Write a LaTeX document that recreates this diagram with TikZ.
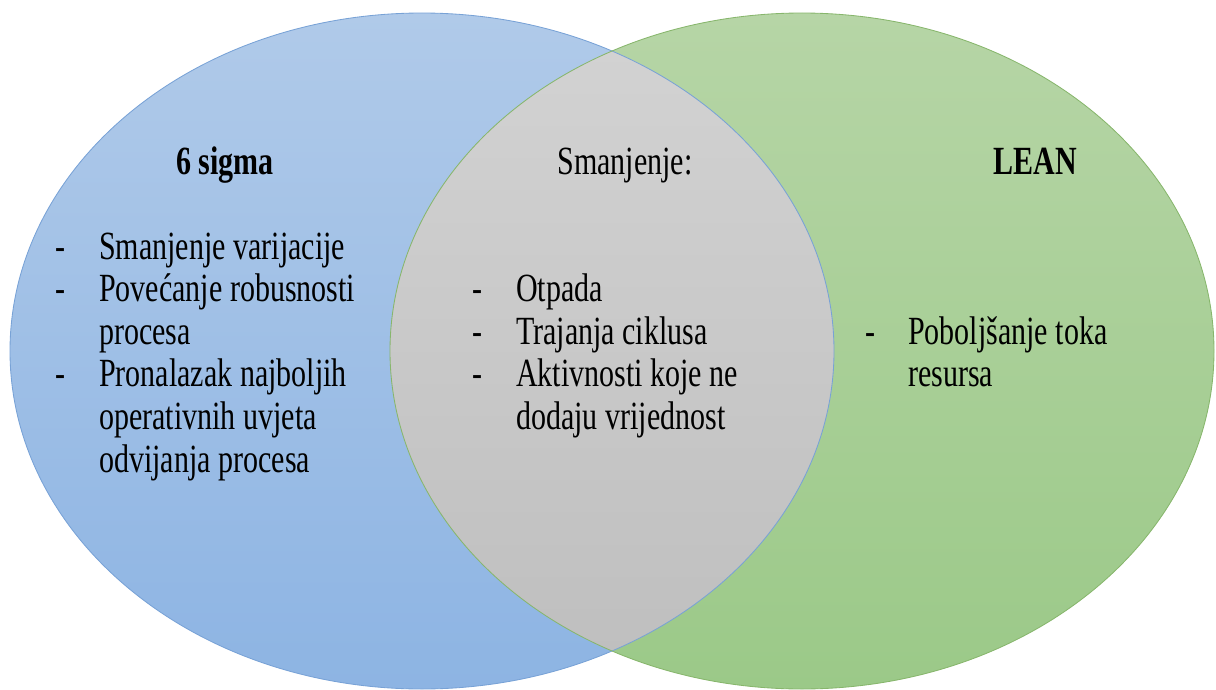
\documentclass[tikz,border=0pt]{standalone}
\usepackage{fontspec}
\setmainfont{Liberation Serif}
\usepackage{tikz}
\usetikzlibrary{positioning}
\definecolor{blueTop}{RGB}{176,202,233}
\definecolor{blueBot}{RGB}{141,180,227}
\definecolor{blueLine}{RGB}{120,162,214}
\definecolor{greenTop}{RGB}{182,213,166}
\definecolor{greenBot}{RGB}{155,201,136}
\definecolor{greenLine}{RGB}{135,182,108}
\definecolor{grayTop}{RGB}{211,211,211}
\definecolor{grayBot}{RGB}{190,190,190}
\tikzstyle{txt}=[%
      anchor=base west, inner sep=0pt, text=black, xscale=0.75,
      font=\fontsize{28.45}{30}\selectfont
]
\tikzstyle{hd}=[%
      anchor=base, inner sep=0pt, text=black, xscale=0.75,
      font=\fontsize{28.45}{30}\selectfont\bfseries
]
\tikzstyle{ttl}=[%
      anchor=base, inner sep=0pt, text=black, xscale=0.75,
      font=\fontsize{28.45}{30}\selectfont
]
\begin{document}
\begin{tikzpicture}[x=0.025cm, y=-0.025cm]
    \useasboundingbox (0,0) rectangle (1216,690);

    % the two sets
    \path[top color=blueTop, bottom color=blueBot] (422,351) ellipse (412 and 338);
    \path[top color=greenTop, bottom color=greenBot] (802,351) ellipse (412 and 338);
    \begin{scope}
      \clip (422,351) ellipse (412 and 338);
      \path[top color=grayTop, bottom color=grayBot] (802,351) ellipse (412 and 338);
    \end{scope}
    \draw[blueLine, line width=0.6pt] (422,351) ellipse (412 and 338);
    \draw[greenLine, line width=0.6pt] (802,351) ellipse (412 and 338);

    % headings
    \node[hd]  (sigma) at (225,174)  {6 sigma};
    \node[ttl] (smanj) at (625,174)  {Smanjenje:};
    \node[hd]  (lean)  at (1035,174) {LEAN};

    % 6 sigma
    \node[txt] (sd1) at (55,259)   {-};
    \node[txt] (s1)  at (99,259)   {Smanjenje varijacije};
    \node[txt] (sd2) at (55,301.6) {-};
    \node[txt] (s2)  at (99,301.6) {Povećanje robusnosti};
    \node[txt] (s3)  at (99,344.2) {procesa};
    \node[txt] (sd4) at (55,386.8) {-};
    \node[txt] (s4)  at (99,386.8) {Pronalazak najboljih};
    \node[txt] (s5)  at (99,429.4) {operativnih uvjeta};
    \node[txt] (s6)  at (99,472)   {odvijanja procesa};

    % zajednicko
    \node[txt] (md1) at (472,301.6) {-};
    \node[txt] (m1)  at (516,301.6) {Otpada};
    \node[txt] (md2) at (472,344.2) {-};
    \node[txt] (m2)  at (516,344.2) {Trajanja ciklusa};
    \node[txt] (md3) at (472,386.8) {-};
    \node[txt] (m3)  at (516,386.8) {Aktivnosti koje ne};
    \node[txt] (m4)  at (516,429.4) {dodaju vrijednost};

    % lean
    \node[txt] (ld1) at (865,344.2) {-};
    \node[txt] (l1)  at (908,344.2) {Poboljšanje toka};
    \node[txt] (l2)  at (908,386.8) {resursa};

\end{tikzpicture}
\end{document}
